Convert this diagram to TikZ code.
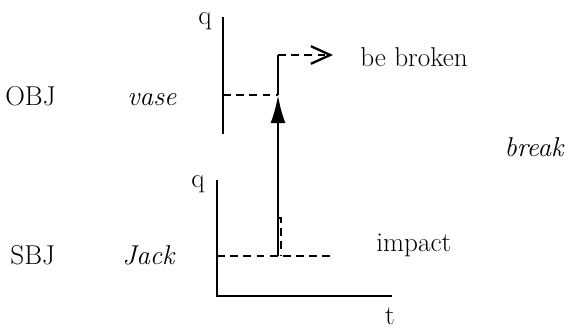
\documentclass[tikz,border=0pt]{standalone}
\usepackage{tikz}
\usetikzlibrary{arrows.meta}

\begin{document}
\begin{tikzpicture}[
      x=0.02cm, y=-0.02cm,
      lbl/.style={font=\fontsize{15.5}{18}\selectfont, inner sep=0pt},
      axis/.style={line width=1.5pt},
      trace/.style={line width=1.4pt, dash pattern=on 4.5pt off 3pt},
      cause/.style={line width=1.5pt, -{Latex[length=16pt,width=8.5pt]}},
      result/.style={trace, -{Straight Barb[length=11pt,width=10pt,line width=1.3pt]}}
    ]
    \useasboundingbox (0,0) rectangle (569,330);

    % row labels
    \node[lbl, anchor=base west] (obj) at (5,106) {OBJ};
    \node[lbl, anchor=base] (vase) at (152,106) {\textit{vase}};
    \node[lbl, anchor=base west] (sbj) at (10,265) {SBJ};
    \node[lbl, anchor=base] (jack) at (149,265) {\textit{Jack}};
    \node[lbl, anchor=base east] (verb) at (565,157) {\textit{break}};

    % object axis
    \coordinate (oTop) at (223,17);
    \coordinate (oBot) at (223,134);
    \node[lbl, anchor=base] (oq) at (205,25) {q};
    \draw[axis] (oTop) -- (oBot);

    % subject axes
    \coordinate (sTop) at (217,180);
    \coordinate (sOrig) at (217,296);
    \coordinate (sEnd) at (392,296);
    \node[lbl, anchor=base] (sq) at (198,188) {q};
    \node[lbl, anchor=base] (st) at (390,325) {t};
    \draw[axis] (sTop) -- (sOrig) -- (sEnd);

    % subject trace
    \coordinate (sLev) at (217,256);
    \coordinate (sKink) at (278,256);
    \coordinate (sStop) at (332,256);
    \coordinate (sCap) at (278,218);
    \coordinate (sCapR) at (281,218);
    \coordinate (sCapB) at (281,256);
    \node[lbl, anchor=base west] (imp) at (376,252) {impact};
    \draw[trace] (sLev) -- (sStop);
    \draw[trace] (sCap) -- (sCapR) -- (sCapB);

    % object trace
    \coordinate (oLev) at (223,95);
    \coordinate (oKink) at (278,95);
    \coordinate (oUp) at (278,55);
    \coordinate (oEnd) at (333,55);
    \node[lbl, anchor=base west] (res) at (360,67) {be broken};
    \draw[trace] (oLev) -- (oKink);
    \draw[axis] (oKink) -- (oUp);
    \draw[result] (oUp) -- (oEnd);

    % causation
    \draw[cause] (sKink) -- (oKink);
  \end{tikzpicture}
\end{document}
